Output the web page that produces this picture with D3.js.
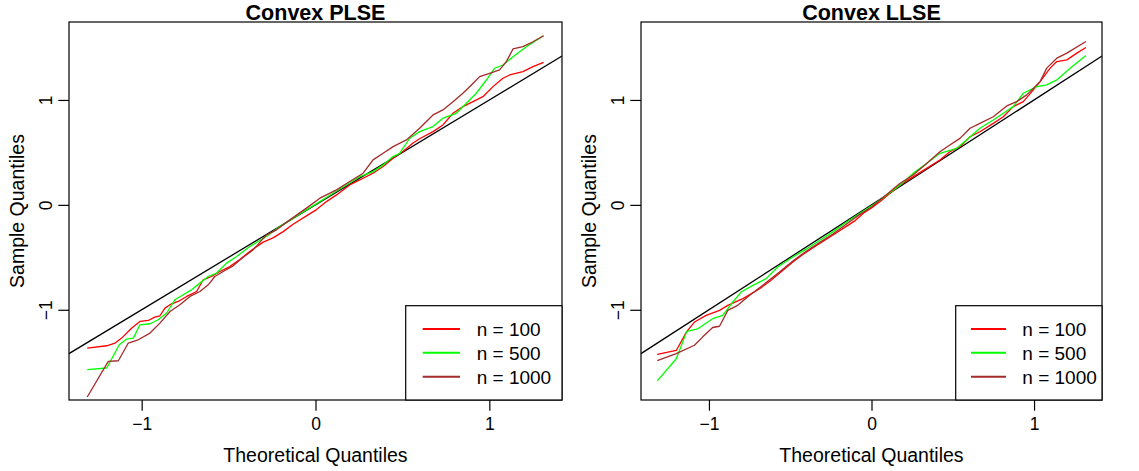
<!DOCTYPE html>
<html>
<head>
<meta charset="utf-8">
<script src="https://cdn.jsdelivr.net/npm/d3@7"></script>
<style>
  body { margin: 0; background: #fff; }
  svg { display: block; }
  text { font-family: "Liberation Sans", Arial, Helvetica, sans-serif; fill: #000; }
</style>
</head>
<body>
<svg id="chart" width="1139" height="471"></svg>
<script>
// ---- data -------------------------------------------------------------
const panelTitles = ["Convex PLSE", "Convex LLSE"];
const seriesNames = ["n = 100", "n = 500", "n = 1000"];
const seriesColors = ["#ff0000", "#00ff00", "#a52a2a"];
const xTicks = [-1, 0, 1];
const yTicks = [-1, 0, 1];
const xLabel = "Theoretical Quantiles";
const yLabel = "Sample Quantiles";

// [theoretical quantile, sample quantile]
const plse100 = [[-1.313,-1.365],[-1.201,-1.343],[-1.153,-1.317],[-1.115,-1.270],[-1.057,-1.174],[-1.010,-1.111],[-0.962,-1.102],[-0.924,-1.070],[-0.895,-1.057],[-0.866,-0.984],[-0.828,-0.943],[-0.790,-0.921],[-0.741,-0.873],[-0.684,-0.826],[-0.646,-0.714],[-0.598,-0.683],[-0.550,-0.635],[-0.493,-0.588],[-0.435,-0.520],[-0.378,-0.445],[-0.301,-0.355],[-0.244,-0.315],[-0.186,-0.255],[-0.129,-0.185],[-0.052,-0.105],[0.006,-0.045],[0.063,0.031],[0.121,0.095],[0.197,0.190],[0.274,0.254],[0.331,0.302],[0.389,0.365],[0.446,0.445],[0.503,0.508],[0.561,0.590],[0.599,0.630],[0.676,0.698],[0.733,0.762],[0.791,0.873],[0.848,0.936],[0.906,0.984],[0.963,1.031],[1.021,1.127],[1.078,1.207],[1.117,1.238],[1.193,1.270],[1.251,1.317],[1.312,1.359]];
const plse500 = [[-1.313,-1.571],[-1.201,-1.555],[-1.129,-1.333],[-1.086,-1.279],[-1.048,-1.270],[-1.010,-1.143],[-0.952,-1.133],[-0.905,-1.095],[-0.856,-1.031],[-0.809,-0.905],[-0.761,-0.857],[-0.713,-0.810],[-0.665,-0.746],[-0.617,-0.683],[-0.569,-0.650],[-0.511,-0.555],[-0.454,-0.492],[-0.378,-0.397],[-0.282,-0.302],[-0.205,-0.207],[-0.129,-0.127],[-0.052,-0.048],[0.025,0.031],[0.101,0.111],[0.178,0.190],[0.255,0.270],[0.331,0.317],[0.389,0.381],[0.446,0.460],[0.484,0.490],[0.542,0.635],[0.599,0.698],[0.676,0.746],[0.733,0.826],[0.810,0.873],[0.868,0.969],[0.925,1.064],[0.983,1.190],[1.030,1.302],[1.078,1.333],[1.136,1.412],[1.213,1.508],[1.312,1.612]];
const plse1000 = [[-1.313,-1.831],[-1.192,-1.492],[-1.134,-1.486],[-1.077,-1.317],[-1.020,-1.286],[-0.952,-1.222],[-0.895,-1.127],[-0.837,-1.016],[-0.780,-0.952],[-0.722,-0.873],[-0.665,-0.826],[-0.617,-0.762],[-0.579,-0.683],[-0.531,-0.635],[-0.474,-0.581],[-0.416,-0.500],[-0.359,-0.429],[-0.282,-0.286],[-0.224,-0.238],[-0.148,-0.143],[-0.052,-0.031],[0.025,0.064],[0.121,0.143],[0.197,0.222],[0.274,0.302],[0.331,0.429],[0.389,0.492],[0.446,0.555],[0.523,0.619],[0.599,0.730],[0.676,0.857],[0.733,0.905],[0.791,0.984],[0.848,1.064],[0.897,1.143],[0.944,1.222],[1.002,1.254],[1.059,1.286],[1.098,1.365],[1.136,1.486],[1.193,1.508],[1.251,1.555],[1.312,1.612]];

const llse100 = [[-1.318,-1.426],[-1.201,-1.388],[-1.136,-1.206],[-1.089,-1.117],[-1.017,-1.053],[-0.935,-1.006],[-0.884,-0.958],[-0.791,-0.894],[-0.688,-0.800],[-0.620,-0.720],[-0.550,-0.630],[-0.480,-0.540],[-0.420,-0.470],[-0.350,-0.400],[-0.280,-0.330],[-0.220,-0.270],[-0.160,-0.210],[-0.100,-0.150],[-0.050,-0.080],[0.000,-0.030],[0.051,0.030],[0.174,0.188],[0.256,0.267],[0.339,0.348],[0.421,0.427],[0.482,0.506],[0.544,0.554],[0.606,0.649],[0.667,0.697],[0.749,0.777],[0.811,0.840],[0.872,0.936],[0.934,0.984],[0.996,1.096],[1.037,1.175],[1.099,1.303],[1.140,1.366],[1.202,1.382],[1.263,1.446],[1.319,1.500]];
const llse500 = [[-1.318,-1.677],[-1.201,-1.467],[-1.136,-1.206],[-1.069,-1.181],[-0.977,-1.085],[-0.915,-1.053],[-0.853,-0.926],[-0.802,-0.831],[-0.730,-0.767],[-0.648,-0.703],[-0.577,-0.592],[-0.484,-0.497],[-0.400,-0.420],[-0.320,-0.340],[-0.240,-0.260],[-0.160,-0.170],[-0.080,-0.090],[0.000,-0.010],[0.051,0.045],[0.174,0.188],[0.256,0.300],[0.339,0.395],[0.421,0.491],[0.524,0.539],[0.585,0.618],[0.667,0.730],[0.749,0.809],[0.811,0.873],[0.872,0.936],[0.934,1.064],[1.017,1.127],[1.078,1.143],[1.140,1.191],[1.222,1.303],[1.319,1.423]];
const llse1000 = [[-1.318,-1.485],[-1.201,-1.418],[-1.089,-1.338],[-1.038,-1.258],[-0.977,-1.169],[-0.935,-1.157],[-0.884,-1.006],[-0.823,-0.958],[-0.751,-0.863],[-0.669,-0.767],[-0.566,-0.640],[-0.480,-0.530],[-0.400,-0.440],[-0.320,-0.360],[-0.240,-0.280],[-0.160,-0.190],[-0.080,-0.100],[0.000,-0.020],[0.051,0.045],[0.174,0.204],[0.256,0.284],[0.339,0.395],[0.421,0.506],[0.482,0.570],[0.544,0.634],[0.606,0.730],[0.667,0.777],[0.749,0.840],[0.832,0.943],[0.893,0.984],[0.955,1.048],[1.037,1.175],[1.078,1.303],[1.140,1.398],[1.202,1.446],[1.319,1.557]];

const xDomain = [-1.418, 1.418];
const yDomain = [-1.86, 1.743];

// ---- layout -----------------------------------------------------------
const panels = [
  { title: panelTitles[0], series: [plse100, plse500, plse1000],
    left: 69, right: 562, legendLeft: 405.7, legLine: [17, 54.3], legText: 71 },
  { title: panelTitles[1], series: [llse100, llse500, llse1000],
    left: 641, right: 1102, legendLeft: 955.7, legLine: [15.3, 50.3], legText: 66.6 }
];
const plotTop = 22, plotBottom = 400;
const tickLen = 10.7;

const svg = d3.select("#chart");
const fmt = d => d < 0 ? "\u2212" + Math.abs(d) : String(d);

panels.forEach((p, pi) => {
  const x = d3.scaleLinear().domain(xDomain).range([p.left, p.right]);
  const y = d3.scaleLinear().domain(yDomain).range([plotBottom, plotTop]);
  const g = svg.append("g");

  const clipId = "clip" + pi;
  svg.append("clipPath").attr("id", clipId)
    .append("rect").attr("x", p.left).attr("y", plotTop)
    .attr("width", p.right - p.left).attr("height", plotBottom - plotTop);

  // reference line y = x
  g.append("line")
    .attr("clip-path", `url(#${clipId})`)
    .attr("x1", x(xDomain[0])).attr("y1", y(xDomain[0]))
    .attr("x2", x(xDomain[1])).attr("y2", y(xDomain[1]))
    .attr("stroke", "#000").attr("stroke-width", 1.3);

  // quantile curves
  const line = d3.line().x(d => x(d[0])).y(d => y(d[1]));
  p.series.forEach((s, i) => {
    g.append("path").datum(s)
      .attr("clip-path", `url(#${clipId})`)
      .attr("d", line)
      .attr("fill", "none")
      .attr("stroke", seriesColors[i])
      .attr("stroke-width", 1.3)
      .attr("stroke-linejoin", "round");
  });

  // x axis
  const xa = g.append("g").attr("transform", `translate(0,${plotBottom})`)
    .call(d3.axisBottom(x).tickValues(xTicks).tickSize(tickLen).tickSizeOuter(0)
      .tickPadding(7).tickFormat(fmt));
  xa.select(".domain").remove();
  xa.selectAll("line").attr("stroke", "#000").attr("stroke-width", 1.2);
  xa.selectAll("text").attr("font-size", 17.5).attr("font-family", null);

  // y axis
  const ya = g.append("g").attr("transform", `translate(${p.left},0)`)
    .call(d3.axisLeft(y).tickValues(yTicks).tickSize(tickLen).tickSizeOuter(0).tickFormat(fmt));
  ya.select(".domain").remove();
  ya.selectAll("line").attr("stroke", "#000").attr("stroke-width", 1.2);
  ya.selectAll("text")
    .attr("x", null).attr("dy", null)
    .attr("font-size", 17.5).attr("font-family", null)
    .attr("text-anchor", "middle")
    .attr("transform", "translate(-17.5,0) rotate(-90)");

  // frame
  g.append("rect")
    .attr("x", p.left).attr("y", plotTop)
    .attr("width", p.right - p.left).attr("height", plotBottom - plotTop)
    .attr("fill", "none").attr("stroke", "#000").attr("stroke-width", 1.2);

  // title and axis labels
  g.append("text").attr("x", (p.left + p.right) / 2).attr("y", 19.5)
    .attr("text-anchor", "middle").attr("font-size", 21.5).attr("font-weight", "bold")
    .text(p.title);
  g.append("text").attr("x", (p.left + p.right) / 2).attr("y", 462)
    .attr("text-anchor", "middle").attr("font-size", 19.5)
    .text(xLabel);
  g.append("text")
    .attr("transform", `translate(${p.left - 45},${(plotTop + plotBottom) / 2}) rotate(-90)`)
    .attr("text-anchor", "middle").attr("font-size", 19.5)
    .text(yLabel);

  // legend
  const lg = g.append("g");
  lg.append("rect")
    .attr("x", p.legendLeft).attr("y", 305.7)
    .attr("width", p.right - p.legendLeft).attr("height", plotBottom - 305.7)
    .attr("fill", "#fff").attr("stroke", "#000").attr("stroke-width", 1.2);
  seriesNames.forEach((name, i) => {
    const ly = 329 + i * 23.85;
    lg.append("line")
      .attr("x1", p.legendLeft + p.legLine[0]).attr("x2", p.legendLeft + p.legLine[1])
      .attr("y1", ly).attr("y2", ly)
      .attr("stroke", seriesColors[i]).attr("stroke-width", 2);
    lg.append("text")
      .attr("x", p.legendLeft + p.legText).attr("y", ly + 7)
      .attr("font-size", 19)
      .text(name);
  });
});
</script>
</body>
</html>
